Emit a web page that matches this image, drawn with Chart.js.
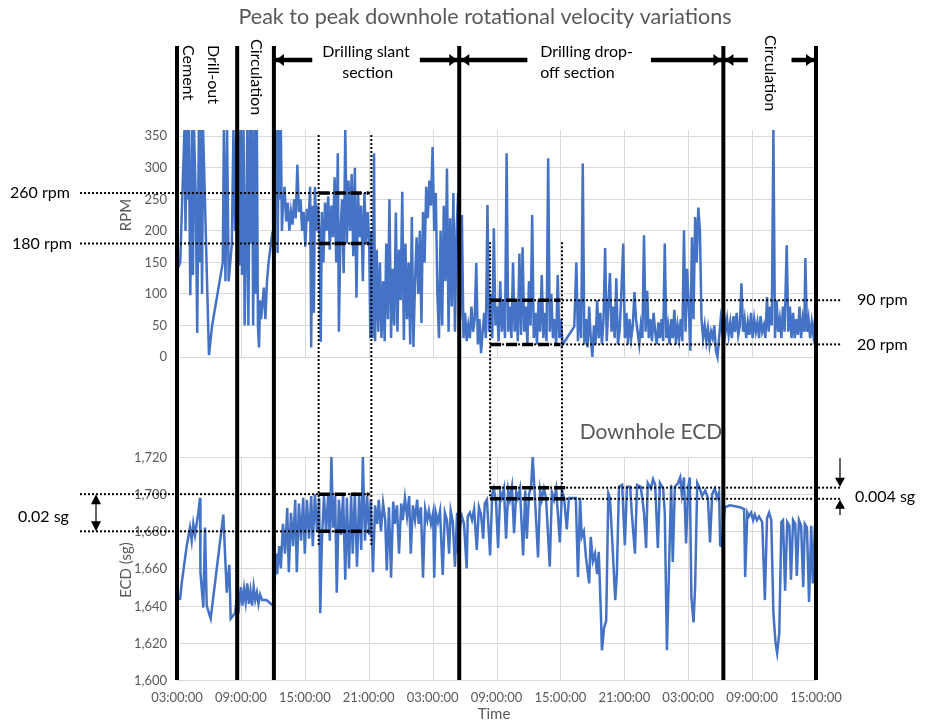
<!DOCTYPE html>
<html>
<head>
<meta charset="utf-8">
<script src="https://cdn.jsdelivr.net/npm/chart.js@4.4.0/dist/chart.umd.min.js"></script>
<style>
  html, body { margin: 0; padding: 0; background: #fff; }
  canvas { display: block; }
</style>
</head>
<body>
<canvas id="chart" width="927" height="722"></canvas>
<script>
// x values are hours counted from 03:00 on the first day
const timeTicks = ['03:00:00', '09:00:00', '15:00:00', '21:00:00', '03:00:00', '09:00:00', '15:00:00', '21:00:00', '03:00:00', '09:00:00', '15:00:00'];
const rpmTicks = [0, 50, 100, 150, 200, 250, 300, 350];
const ecdTicks = [1.60, 1.62, 1.64, 1.66, 1.68, 1.70, 1.72];
const ecdTickLabels = ['1,600', '1,620', '1,640', '1,660', '1,680', '1,700', '1,720'];

// downhole rotational velocity (rpm)
const rpmHours = [
  0.1, 0.3, 0.7, 0.8, 0.9, 1.0, 1.1, 1.25, 1.4, 1.5, 1.6, 1.75, 1.9, 2.05, 2.15, 2.25, 2.35, 2.45, 3.0, 3.3, 4.3, 4.4, 4.55, 4.7, 4.85, 5.15, 5.3, 5.45, 5.6,
  5.75, 5.85, 6.0, 6.1, 6.25, 6.35, 6.5, 6.6, 6.7, 6.85, 6.95, 7.05, 7.15, 7.3, 7.4, 7.5, 7.6, 7.7, 7.8, 7.9, 8.0, 8.15, 8.3, 8.45, 8.6, 8.75, 8.9, 9.05,
  9.15, 9.25, 9.35, 9.45, 9.55, 9.65, 9.75, 9.85, 9.95, 10.1, 10.25, 10.4, 10.55, 10.7, 10.85, 11.0, 11.15, 11.3, 11.45, 11.6, 11.75, 11.9, 12.05, 12.2,
  12.35, 12.5, 12.6, 12.7, 12.85, 12.95, 13.1, 13.25, 13.4, 13.5, 13.6, 13.75, 13.9, 14.05, 14.2, 14.35, 14.5, 14.65, 14.8, 14.95, 15.1, 15.2, 15.35, 15.5,
  15.65, 15.8, 15.95, 16.1, 16.25, 16.4, 16.55, 16.7, 16.85, 17.0, 17.15, 17.3, 17.45, 17.6, 17.75, 17.9, 18.05,
  18.15, 18.25, 18.35, 18.5, 18.6, 18.75, 18.9, 19.05, 19.2, 19.35, 19.5, 19.65, 19.8, 19.95, 20.1, 20.25, 20.4, 20.55, 20.7, 20.85,
  21.0, 21.15, 21.3, 21.45, 21.6, 21.75, 21.9, 22.05, 22.2, 22.35, 22.5, 22.65, 22.8, 22.95,
  23.1, 23.25, 23.4, 23.55, 23.7, 23.85, 24.0, 24.15, 24.3, 24.45, 24.6,
  24.75, 24.9, 25.05, 25.2, 25.35, 25.5, 25.65, 25.8, 25.95, 26.1, 26.25, 26.4,
  26.6, 26.75, 26.9, 27.05, 27.2, 27.35, 27.5, 27.65, 27.8, 27.95, 28.1, 28.25, 28.4, 28.55, 28.7, 28.85, 29.0, 29.15, 29.3,
  29.45, 29.6, 29.75, 29.9, 30.05, 30.2, 30.35, 30.5, 30.65, 30.8, 30.95, 31.1, 31.25,
  31.4, 31.55, 31.7, 31.85, 32.0, 32.15, 32.3, 32.45, 32.6, 32.75, 32.9, 33.05, 33.2, 33.35, 33.5, 33.65,
  33.8, 33.95, 34.1, 34.25, 34.4, 34.55, 34.7, 34.85, 35.0, 35.15, 35.3, 35.45, 35.6, 35.75, 35.9, 36.05, 36.2,
  36.3, 37.3, 37.5, 37.65, 37.8, 37.95, 38.1, 38.25,
  38.4, 38.55, 38.7, 38.85, 39.0, 39.15, 39.3, 39.45, 39.6, 39.75, 39.9, 40.05, 40.2, 40.35, 40.5, 40.65, 40.8, 40.95, 41.1, 41.25, 41.4,
  41.55, 41.7, 41.9, 42.05, 42.2, 42.35, 42.5, 42.65, 42.8, 42.95, 43.1, 43.25, 43.4, 43.55, 43.7, 43.85, 44.0, 44.15,
  44.3, 44.45, 44.6, 44.75, 44.9, 45.05, 45.2, 45.35, 45.5, 45.65, 45.8, 45.95, 46.1, 46.25, 46.4, 46.55, 46.7, 46.85, 47.0, 47.15, 47.3, 47.45,
  47.6, 47.75, 47.9, 48.05, 48.2, 48.35, 48.5, 48.65, 48.8, 48.95, 49.1, 49.25, 49.4,
  49.55, 49.7, 49.85, 50.0, 50.15, 50.3, 50.45, 50.6, 50.75, 50.9, 51.05, 51.2,
  51.35, 51.5, 51.65, 51.8, 51.95, 52.1, 52.25, 52.4, 52.55, 52.7, 52.85, 53.0, 53.15, 53.3, 53.45, 53.6, 53.75, 53.9, 54.05, 54.2, 54.35, 54.5, 54.65, 54.8, 54.95, 55.1, 55.25, 55.4, 55.55, 55.7,
  55.85, 56.0, 56.15, 56.3, 56.45, 56.6, 56.75, 56.9, 57.05, 57.25, 57.4, 57.55, 57.7, 57.85, 58.0, 58.15, 58.3, 58.45, 58.6, 58.75, 58.9, 59.0, 59.15, 59.3, 59.45, 59.6, 59.75, 59.9
];
const rpmValues = [
  141, 150, 360, 200, 360, 250, 360, 98, 360, 130, 360, 260, 38, 360, 150, 360, 100, 360, 3, 50, 150, 360, 120, 360, 120, 180, 360, 200, 360,
  360, 145, 360, 130, 360, 50, 210, 360, 50, 360, 180, 360, 50, 360, 100, 360, 50, 15, 90, 60, 80, 110, 60, 120, 150, 170, 190, 180,
  360, 300, 360, 165, 360, 250, 360, 200, 240, 270, 215, 245, 200, 230, 210, 250, 220, 305, 230, 250, 200, 230, 175, 235,
  215, 270, 15, 240, 70, 270, 200, 240, 185, 24, 230, 150, 245, 200, 255, 170, 240, 190, 285, 150, 323, 40, 200, 250,
  133, 360, 180, 280, 200, 290, 160, 300, 94, 260, 190, 240, 120, 260, 180, 230, 180,
  30, 200, 30, 323, 25, 170, 40, 150, 30, 120, 25, 180, 60, 250, 30, 140, 50, 229, 40, 170,
  90, 262, 27, 180, 60, 150, 20, 222, 16, 120, 190, 100, 200, 54,
  230, 150, 270, 220, 280, 240, 333, 200, 260, 100, 30,
  200, 50, 240, 120, 299, 40, 220, 80, 260, 40, 200, 260,
  60, 225, 30, 70, 25, 50, 30, 80, 40, 60, 149, 20, 60, 6, 40, 70, 30, 241, 40,
  100, 30, 204, 50, 80, 25, 120, 40, 90, 30, 323, 40, 80,
  30, 150, 40, 90, 25, 164, 35, 174, 40, 80, 20, 120, 50, 225, 30, 70,
  20, 90, 40, 130, 30, 70, 25, 315, 40, 100, 30, 60, 20, 130, 30, 60, 20,
  22, 48, 150, 25, 90, 30, 307, 20,
  60, 15, 80, 30, 0, 50, 20, 90, 30, 70, 20, 60, 173, 25, 80, 133, 40, 80, 30, 125, 20,
  40, 90, 180, 30, 70, 20, 60, 30, 50, 103, 60, 40, 20, 50, 30, 193, 40, 105,
  30, 60, 25, 70, 40, 20, 55, 30, 60, 25, 180, 30, 50, 20, 60, 30, 75, 20, 50, 30, 60, 25,
  201, 40, 140, 80, 10, 190, 60, 222, 150, 237, 200, 60, 30,
  50, 25, 45, 20, 40, 30, 50, 10, 0, 30, 60, 40,
  70, 40, 60, 35, 55, 30, 65, 40, 70, 35, 50, 117, 40, 60, 30, 55, 35, 70, 30, 60, 40, 55, 30, 65, 40, 50, 30, 95, 40, 80,
  50, 360, 30, 90, 40, 60, 30, 80, 40, 177, 40, 80, 30, 70, 30, 60, 35, 80, 30, 60, 40, 157, 40, 60, 30, 55, 35, 60
];

// downhole ECD (sg)
const ecdHours = [
  0.28, 0.44, 0.91, 1.22, 1.38, 1.53, 1.69, 2.0, 2.16, 2.2, 2.47, 2.63, 2.79, 3.16, 4.35, 4.67, 4.91, 5.04, 5.45,
  5.7, 5.85, 6.0, 6.15, 6.3, 6.45, 6.6, 6.75, 6.9, 7.05, 7.2, 7.35, 7.5, 7.65, 7.8, 8.0, 8.4, 8.8, 9.05,
  9.1, 9.3, 9.4, 9.6, 9.75, 9.95, 10.15, 10.35, 10.5, 10.7,
  10.9, 11.1, 11.25, 11.45, 11.65, 11.85, 12.0, 12.2, 12.4, 12.6,
  12.75, 12.95, 13.15, 13.35, 13.45, 13.6, 13.8, 14.0, 14.2, 14.35,
  14.5, 14.65, 14.85, 15.0, 15.2, 15.4, 15.6, 15.8, 15.95, 16.15,
  16.35, 16.5, 16.7, 16.9, 17.1, 17.3, 17.45, 17.65, 17.85, 18.05,
  18.2, 18.4, 18.6, 18.8, 18.95, 19.15, 19.35, 19.55, 19.7, 19.9,
  20.1, 20.3, 20.45, 20.65, 20.85, 21.05, 21.2, 21.4, 21.6, 21.8,
  21.95, 22.15, 22.35, 22.55, 22.7, 22.9, 23.1, 23.3, 23.5, 23.65,
  23.85, 24.05, 24.15, 24.3, 24.5, 24.7, 24.95, 25.15, 25.35, 25.55,
  25.7, 25.9, 26.1, 26.3, 26.4,
  26.6, 26.75, 26.95, 27.2, 27.3, 27.5, 27.7, 27.9, 28.15, 28.35,
  28.55, 28.75, 28.9, 29.1, 29.4, 29.6, 29.75, 29.95, 30.15, 30.35,
  30.5, 30.7, 30.9, 31.1, 31.25, 31.45, 31.65, 31.85, 32.0, 32.2,
  32.5, 32.7, 32.85, 33.05, 33.25, 33.4, 33.6, 33.9, 34.1, 34.25,
  34.45, 34.65, 35.0, 35.2, 35.4, 35.6, 35.95, 36.15, 36.35, 36.6,
  36.8, 37.45, 37.65, 37.85, 38.0, 38.2, 38.4, 38.7, 38.85, 39.05,
  39.25, 39.45, 39.6, 39.8, 39.9, 40.1, 40.3, 40.5, 40.65, 40.85,
  41.15, 41.3, 41.5, 41.8, 42.05, 42.25, 42.55, 42.7, 43.0, 43.2,
  43.55, 43.85, 44.05, 44.2, 44.5, 44.7, 44.9, 45.15, 45.35, 45.65,
  45.8, 46.0, 46.2, 46.4, 46.55, 46.75, 47.05, 47.25, 47.4, 47.6,
  47.8, 48.0, 48.15, 48.3, 48.5, 48.65, 48.85, 49.1, 49.3, 49.6,
  49.85, 50.05, 50.25, 50.5, 50.7, 50.9, 51.0, 51.15,
  51.45, 51.9, 52.4, 52.85, 53.25, 53.35, 53.55, 53.7, 53.9, 54.1,
  54.25, 54.45, 54.65, 54.95, 55.2, 55.4, 55.6, 55.8, 56.0, 56.2,
  56.35, 56.55, 56.75, 56.9, 57.1, 57.3, 57.5, 57.65, 57.85, 58.05,
  58.2, 58.4, 58.6, 58.8, 58.95, 59.15, 59.35, 59.55, 59.7, 59.9
];
const ecdValues = [
  1.643, 1.652, 1.672, 1.682, 1.675, 1.684, 1.678, 1.690, 1.698, 1.658, 1.639, 1.682, 1.640, 1.633, 1.689, 1.647, 1.662, 1.633, 1.636,
  1.648, 1.641, 1.650, 1.640, 1.649, 1.642, 1.652, 1.641, 1.648, 1.640, 1.650, 1.643, 1.647, 1.641, 1.646, 1.643, 1.643, 1.641, 1.640,
  1.640, 1.668, 1.657, 1.672, 1.660, 1.684, 1.668, 1.6925, 1.658, 1.690,
  1.672, 1.697, 1.658, 1.695, 1.675, 1.698, 1.668, 1.697, 1.676, 1.699,
  1.672, 1.700, 1.680, 1.698, 1.636, 1.674, 1.699, 1.680, 1.700, 1.675,
  1.720, 1.682, 1.699, 1.647, 1.697, 1.678, 1.700, 1.654, 1.698, 1.660,
  1.699, 1.668, 1.701, 1.661, 1.699, 1.670, 1.720, 1.675, 1.699, 1.678,
  1.697, 1.658, 1.694, 1.684, 1.697, 1.680, 1.695, 1.686, 1.659, 1.693,
  1.655, 1.696, 1.684, 1.694, 1.668, 1.695, 1.686, 1.698, 1.688, 1.699,
  1.668, 1.694, 1.686, 1.697, 1.684, 1.693, 1.655, 1.692, 1.686, 1.691,
  1.684, 1.690, 1.655, 1.690, 1.685, 1.691, 1.6565, 1.690, 1.686, 1.668,
  1.691, 1.685, 1.661, 1.690, 1.668,
  1.683, 1.688, 1.684, 1.660, 1.688, 1.690, 1.686, 1.692, 1.670, 1.693,
  1.689, 1.676, 1.695, 1.697, 1.667, 1.700, 1.703, 1.696, 1.671, 1.701,
  1.698, 1.703, 1.676, 1.702, 1.697, 1.704, 1.679, 1.701, 1.698, 1.703,
  1.667, 1.702, 1.676, 1.700, 1.704, 1.720, 1.699, 1.666, 1.702, 1.697,
  1.703, 1.698, 1.661, 1.701, 1.697, 1.703, 1.674, 1.702, 1.698, 1.681,
  1.698, 1.698, 1.6555, 1.698, 1.677, 1.680, 1.666, 1.652, 1.677, 1.664,
  1.668, 1.657, 1.669, 1.636, 1.616, 1.628, 1.632, 1.7005, 1.698, 1.677,
  1.643, 1.657, 1.704, 1.705, 1.6725, 1.704, 1.704, 1.690, 1.668, 1.705,
  1.704, 1.690, 1.671, 1.706, 1.703, 1.708, 1.705, 1.671, 1.706, 1.703,
  1.690, 1.616, 1.660, 1.705, 1.6635, 1.704, 1.706, 1.709, 1.700, 1.709,
  1.6735, 1.704, 1.709, 1.6447, 1.631, 1.650, 1.706, 1.703, 1.699, 1.702,
  1.698, 1.674, 1.700, 1.703, 1.698, 1.701, 1.6725, 1.672,
  1.693, 1.694, 1.6935, 1.693, 1.692, 1.6555, 1.690, 1.688, 1.690, 1.686,
  1.689, 1.686, 1.688, 1.685, 1.643, 1.687, 1.690, 1.686, 1.636, 1.620,
  1.6145, 1.625, 1.685, 1.686, 1.648, 1.685, 1.683, 1.654, 1.686, 1.684,
  1.656, 1.686, 1.683, 1.650, 1.684, 1.682, 1.642, 1.683, 1.652, 1.683
];

// operation phase boundaries (hours)
const phaseHours = [0, 5.65, 9.1, 26.5, 51.3, 60];

const blue = '#4472c4';
const grey = '#595959';
const gridGrey = '#d9d9d9';
const ink = '#000';
Chart.defaults.font.family = 'Lato';

function seg(ctx, x1, y1, x2, y2, width, dash) {
  ctx.save();
  ctx.beginPath();
  ctx.strokeStyle = ink;
  ctx.lineWidth = width;
  ctx.setLineDash(dash || []);
  ctx.moveTo(x1, y1);
  ctx.lineTo(x2, y2);
  ctx.stroke();
  ctx.restore();
}

// filled arrow head, (dx, dy) is the direction it points to
function head(ctx, tx, ty, dx, dy, len, half) {
  ctx.save();
  ctx.fillStyle = ink;
  ctx.beginPath();
  ctx.moveTo(tx, ty);
  ctx.lineTo(tx - dx * len - dy * half, ty - dy * len + dx * half);
  ctx.lineTo(tx - dx * len + dy * half, ty - dy * len - dx * half);
  ctx.closePath();
  ctx.fill();
  ctx.restore();
}

function write(ctx, str, px, py, font, color, align, angle) {
  ctx.save();
  ctx.font = font;
  ctx.fillStyle = color;
  ctx.textAlign = align || 'left';
  ctx.textBaseline = 'middle';
  ctx.translate(px, py);
  if (angle) ctx.rotate(angle);
  ctx.fillText(str, 0, 0);
  ctx.restore();
}

const annotate = {
  id: 'annotate',
  beforeDatasetsDraw(chart) {
    const { ctx, chartArea: area } = chart;
    const { x, y, ecd } = chart.scales;
    ctx.save();
    ctx.strokeStyle = gridGrey;
    ctx.lineWidth = 1;
    const panels = [[y.getPixelForValue(360), y.getPixelForValue(0)], [ecd.getPixelForValue(1.72), ecd.getPixelForValue(1.6)]];
    x.ticks.forEach(t => {
      const px = Math.round(x.getPixelForValue(t.value)) + 0.5;
      panels.forEach(([top, bottom]) => {
        ctx.beginPath();
        ctx.moveTo(px, top);
        ctx.lineTo(px, bottom);
        ctx.stroke();
      });
    });
    ecdTicks.forEach((v, i) => {
      const py = Math.round(ecd.getPixelForValue(v)) + 0.5;
      ctx.beginPath();
      ctx.moveTo(area.left, py);
      ctx.lineTo(area.right, py);
      ctx.stroke();
      write(ctx, ecdTickLabels[i], area.left - 10, py, '13px Lato', grey, 'right');
    });
    ctx.restore();
  },
  afterDatasetsDraw(chart) {
    const { ctx, chartArea: area } = chart;
    const { x, y, ecd } = chart.scales;
    const X = h => x.getPixelForValue(h);
    const R = v => y.getPixelForValue(v);
    const E = v => ecd.getPixelForValue(v);
    const dot = [2, 2];
    const dash = [11, 5];
    const txt = '16px Lato';

    // titles
    write(ctx, 'Peak to peak downhole rotational velocity variations', 485, 17, '21.5px Lato', grey, 'center');
    write(ctx, 'Downhole ECD', 651, 432, '21px Lato', grey, 'center');
    write(ctx, 'RPM', 126, 215, '15px Lato', grey, 'center', -Math.PI / 2);
    write(ctx, 'ECD (sg)', 126, 570, '15px Lato', grey, 'center', -Math.PI / 2);
    write(ctx, 'Time', 494, 714, '15px Lato', grey, 'center');

    // slant section markers
    [260, 180].forEach(v => {
      seg(ctx, 80, R(v), X(18.25), R(v), 2, dot);
      seg(ctx, X(13.3), R(v), X(18.0), R(v), 3.5, dash);
    });
    [1.70, 1.68].forEach(v => {
      seg(ctx, 80, E(v), X(18.25), E(v), 2, dot);
      seg(ctx, X(13.3), E(v), X(18.0), E(v), 3.5, dash);
    });
    [13.3, 18.25].forEach(h => seg(ctx, X(h), R(352), X(h), E(1.6727), 2, dot));
    write(ctx, '260 rpm', 10, R(260), txt, ink);
    write(ctx, '180 rpm', 12, R(180), txt, ink);
    seg(ctx, 96, E(1.70) + 9, 96, E(1.68) - 9, 1.2);
    head(ctx, 96, E(1.70), 0, -1, 10, 5);
    head(ctx, 96, E(1.68), 0, 1, 10, 5);
    write(ctx, '0.02 sg', 18, 517, txt, ink);

    // drop-off section markers
    [90, 20].forEach(v => {
      seg(ctx, X(29.4), R(v), 842, R(v), 2, dot);
      seg(ctx, X(29.4), R(v), X(36.0), R(v), 3.5, dash);
    });
    [1.7035, 1.6975].forEach(v => {
      seg(ctx, X(29.4), E(v), 842, E(v), 2, dot);
      seg(ctx, X(29.4), E(v), X(36.8), E(v), 3.5, dash);
    });
    [29.4, 36.15].forEach(h => seg(ctx, X(h), R(182), X(h), E(1.6975), 2, dot));
    write(ctx, '90 rpm', 857, R(90), txt, ink);
    write(ctx, '20 rpm', 857, R(20), txt, ink);
    seg(ctx, 840, 458, 840, E(1.7035) - 8, 1.2);
    head(ctx, 840, E(1.7035) - 1, 0, 1, 9, 5);
    seg(ctx, 840, 515, 840, E(1.6975) + 8, 1.2);
    head(ctx, 840, E(1.6975) + 1, 0, -1, 9, 5);
    write(ctx, '0.004 sg', 855, 497, txt, ink);

    // phase boundaries
    phaseHours.forEach(h => seg(ctx, X(h), 46, X(h), area.bottom, 4));
    write(ctx, 'Cement', 188, 45, txt, ink, 'left', Math.PI / 2);
    write(ctx, 'Drill-out', 213, 45, txt, ink, 'left', Math.PI / 2);
    write(ctx, 'Circulation', 256, 39, txt, ink, 'left', Math.PI / 2);
    write(ctx, 'Circulation', 770, 35, txt, ink, 'left', Math.PI / 2);

    const ay = 60;
    const bar = (h1, h2) => seg(ctx, X(h1), ay, X(h2), ay, 4.5);
    bar(9.1, 12.7); head(ctx, X(9.1) + 2, ay, -1, 0, 8, 6);
    bar(22.8, 26.5); head(ctx, X(26.5) - 2, ay, 1, 0, 8, 6);
    bar(26.5, 32.9); head(ctx, X(26.5) + 2, ay, -1, 0, 8, 6);
    bar(44.5, 51.3); head(ctx, X(51.3) - 2, ay, 1, 0, 8, 6);
    bar(51.3, 53.6); head(ctx, X(51.3) + 2, ay, -1, 0, 8, 6);
    bar(57.7, 60); head(ctx, X(60) - 2, ay, 1, 0, 8, 6);
    write(ctx, 'Drilling slant', X(17.75), 52, txt, ink, 'center');
    write(ctx, 'section', X(17.9), 73, txt, ink, 'center');
    write(ctx, 'Drilling drop-', X(34.1), 52, txt, ink, 'left');
    write(ctx, 'off section', X(34.1), 73, txt, ink, 'left');
  }
};

new Chart(document.getElementById('chart'), {
  type: 'line',
  data: {
    datasets: [
      {
        label: 'RPM',
        data: rpmHours.map((h, i) => ({ x: h, y: rpmValues[i] })),
        yAxisID: 'y',
        borderColor: blue,
        borderWidth: 2.5,
        pointRadius: 0,
        tension: 0
      },
      {
        label: 'ECD',
        data: ecdHours.map((h, i) => ({ x: h, y: ecdValues[i] })),
        yAxisID: 'ecd',
        borderColor: blue,
        borderWidth: 2.5,
        pointRadius: 0,
        tension: 0
      }
    ]
  },
  options: {
    responsive: false,
    animation: false,
    devicePixelRatio: 1,
    layout: { padding: { left: 0, right: 111, top: 130, bottom: 0 } },
    plugins: { legend: { display: false }, tooltip: { enabled: false } },
    scales: {
      x: {
        type: 'linear',
        min: 0,
        max: 60,
        grid: { display: false, drawTicks: false },
        border: { display: false },
        ticks: {
          stepSize: 6,
          autoSkip: false,
          maxRotation: 0,
          padding: 10,
          color: grey,
          font: { size: 13 },
          callback: (v, i) => timeTicks[i]
        },
        afterFit: axis => { axis.height = 42; }
      },
      y: {
        type: 'linear',
        position: 'left',
        min: -512.24,
        max: 360,
        afterBuildTicks: axis => { axis.ticks = rpmTicks.map(v => ({ value: v })); },
        grid: { color: gridGrey, drawTicks: false },
        border: { display: false },
        ticks: { padding: 10, color: grey, font: { size: 13 } },
        afterFit: axis => { axis.width = 177; }
      },
      ecd: {
        type: 'linear',
        position: 'left',
        display: false,
        min: 1.6,
        max: 1.89596
      }
    }
  },
  plugins: [annotate]
});
</script>
</body>
</html>
